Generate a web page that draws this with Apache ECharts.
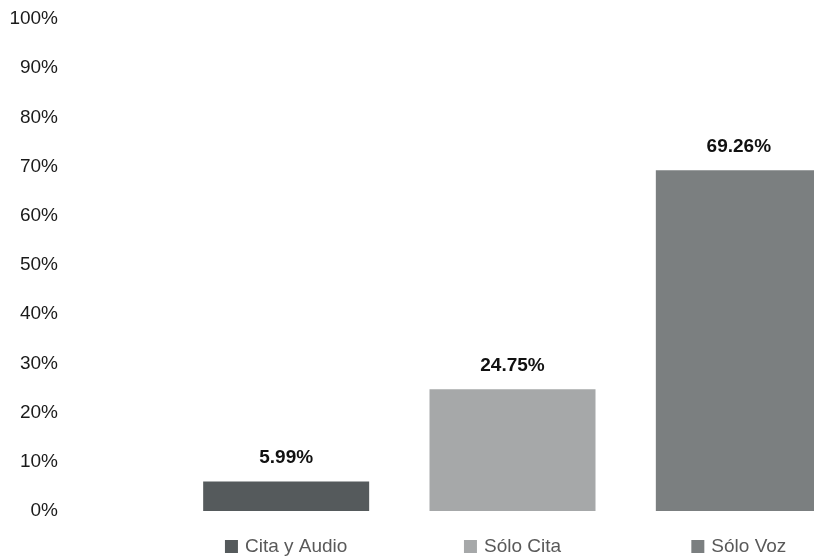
<!DOCTYPE html>
<html><head><meta charset="utf-8">
<script src="https://cdn.jsdelivr.net/npm/echarts@6/dist/echarts.min.js"></script>
<style>html,body{margin:0;padding:0;background:#fff}#c{width:814px;height:558px}</style>
</head><body><div id="c"></div>
<script>
const categories = ['Cita y Audio', 'Sólo Cita', 'Sólo Voz'];
const values = [5.99, 24.75, 69.26];
const colors = ['#555a5c', '#a6a8a9', '#7b7f80'];
const yTicks = [0, 10, 20, 30, 40, 50, 60, 70, 80, 90, 100];

const chart = echarts.init(document.getElementById('c'));
const rich = {};
categories.forEach((c, i) => {
  rich['sq' + i] = { width: 13, height: 13, backgroundColor: colors[i] };
});
rich.t = { fontSize: 19, color: '#595959', fontFamily: 'Liberation Sans, Arial, sans-serif', padding: [0, 0, 0, 7] };
chart.setOption({
  animation: false,
  grid: { left: 173, top: 19, width: 679, height: 492, outerBoundsMode: 'none', containLabel: false },
  xAxis: {
    type: 'category', data: categories,
    axisLine: { show: false }, axisTick: { show: false },
    axisLabel: {
      margin: 26,
      formatter: (v, i) => '{sq' + i + '|}{t|' + v + '}',
      rich: rich
    }
  },
  yAxis: {
    type: 'value', min: yTicks[0], max: yTicks[yTicks.length - 1], interval: 10,
    splitLine: { show: false }, axisLine: { show: false }, axisTick: { show: false },
    axisLabel: {
      margin: 115, formatter: v => v + '%',
      fontSize: 19, color: '#1a1a1a', fontFamily: 'Liberation Sans, Arial, sans-serif'
    }
  },
  series: [{
    type: 'bar', barWidth: 166,
    data: values.map((v, i) => ({ value: v, itemStyle: { color: colors[i] } })),
    label: {
      show: true, position: 'top', distance: 14,
      formatter: p => p.value.toFixed(2) + '%',
      fontSize: 19, fontWeight: 'bold', color: '#111',
      fontFamily: 'Liberation Sans, Arial, sans-serif'
    }
  }]
});
</script></body></html>
